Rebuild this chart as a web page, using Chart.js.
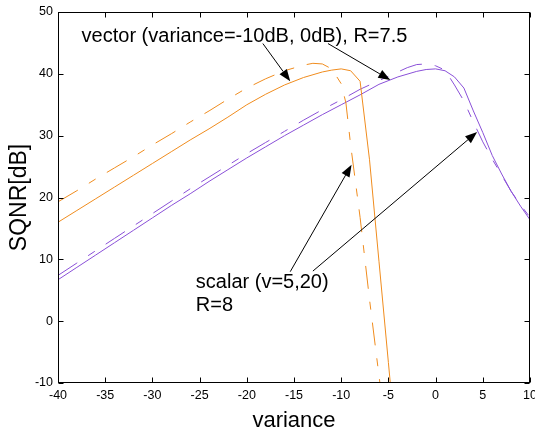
<!DOCTYPE html>
<html>
<head>
<meta charset="utf-8">
<script src="https://cdn.jsdelivr.net/npm/chart.js@4.4.0/dist/chart.umd.min.js"></script>
<style>
  html, body { margin: 0; padding: 0; background: #fff; }
  canvas { display: block; }
</style>
</head>
<body>
<canvas id="sqnrChart" width="535" height="433"></canvas>
<script>
// values (variance in dB -> SQNR in dB)
const vecOrangeX = [-40, -38, -36, -34, -32, -30, -28, -26, -24, -22, -20, -18, -16, -14, -12, -11, -10, -9, -8, -7, -6, -5, -4.8];
const vecOrangeY = [16.0, 17.9, 19.8, 21.7, 23.6, 25.5, 27.4, 29.3, 31.1, 33.0, 35.0, 36.7, 38.2, 39.4, 40.3, 40.6, 40.8, 40.5, 38.8, 26.1, 9.7, -6.7, -10];

const scalOrangeX = [-40, -38, -36, -34, -32, -30, -28, -26, -24, -22, -20, -18, -16, -14, -13, -12, -11, -10, -9.5, -9, -8, -7, -6, -5.9];
const scalOrangeY = [19.3, 21.1, 23.0, 24.8, 26.6, 28.5, 30.3, 32.2, 34.0, 35.9, 37.7, 39.2, 40.5, 41.4, 41.7, 41.6, 40.8, 38.4, 35.3, 28.5, 16.8, 3.5, -8.8, -10];

const vecPurpleX = [-40, -38, -36, -34, -32, -30, -28, -26, -24, -22, -20, -18, -16, -14, -12, -10, -8, -6, -4, -2, -1, 0, 1, 2, 3, 4, 5, 6, 7, 8, 9, 10];
const vecPurpleY = [6.7, 8.7, 10.7, 12.7, 14.7, 16.7, 18.7, 20.6, 22.6, 24.5, 26.4, 28.2, 30.0, 31.7, 33.4, 35.0, 36.6, 38.3, 39.5, 40.4, 40.7, 40.8, 40.5, 39.5, 37.7, 34.0, 30.5, 26.8, 23.8, 21.0, 18.6, 16.4];

const scalPurpleX = [-40, -38, -36, -34, -32, -30, -28, -26, -24, -22, -20, -18, -16, -14, -12, -10, -8, -6, -4, -3, -2, -1, 0, 1, 2, 3, 4, 5, 6, 7, 8, 9, 10];
const scalPurpleY = [7.4, 9.4, 11.4, 13.4, 15.4, 17.4, 19.4, 21.4, 23.3, 25.2, 27.1, 28.9, 30.7, 32.5, 34.2, 35.8, 37.5, 38.9, 40.3, 41.0, 41.5, 41.6, 41.3, 40.6, 38.2, 35.6, 32.2, 29.0, 26.2, 23.6, 21.0, 18.8, 16.8];

const xTicks = [-40, -35, -30, -25, -20, -15, -10, -5, 0, 5, 10];
const yTicks = [-10, 0, 10, 20, 30, 40, 50];

// text notes and arrows, in data units
const notes = [
  { text: 'vector (variance=-10dB, 0dB), R=7.5', x: -37.5, y: 45.2 },
  { text: 'scalar (v=5,20)', x: -25.4, y: 5.4 },
  { text: 'R=8', x: -25.4, y: 1.6 }
];
const arrows = [
  { from: [-18.3, 44.9], to: [-15.4, 38.8] },
  { from: [-11.4, 44.9], to: [-4.8, 39.0] },
  { from: [-15.4, 8.0], to: [-8.9, 25.3] },
  { from: [-13.0, 8.1], to: [4.4, 30.6] }
];

const ORANGE = '#f08c1e';
const PURPLE = '#8a50d8';
const FONT = "'Liberation Sans', Arial, sans-serif";
const dashDot = [23, 13, 8, 13];

function toPoints(xs, ys) {
  return xs.map((x, i) => ({ x: x, y: ys[i] }));
}

function drawArrow(ctx, x0, y0, x1, y1) {
  const ang = Math.atan2(y1 - y0, x1 - x0);
  const len = 12, half = 4.5;
  const bx = x1 - len * Math.cos(ang), by = y1 - len * Math.sin(ang);
  ctx.beginPath();
  ctx.moveTo(x0, y0);
  ctx.lineTo(bx, by);
  ctx.stroke();
  ctx.beginPath();
  ctx.moveTo(x1, y1);
  ctx.lineTo(bx + half * Math.sin(ang), by - half * Math.cos(ang));
  ctx.lineTo(bx - half * Math.sin(ang), by + half * Math.cos(ang));
  ctx.closePath();
  ctx.fill();
}

const matlabBox = {
  id: 'matlabBox',
  afterDraw(chart) {
    const { ctx, chartArea: a, scales: { x, y } } = chart;
    const l = Math.round(a.left) + 0.5, r = Math.round(a.right) - 0.5;
    const t = Math.round(a.top) + 0.5, b = Math.round(a.bottom) - 0.5;
    const tl = 5;
    ctx.save();
    ctx.strokeStyle = '#000';
    ctx.fillStyle = '#000';
    ctx.lineWidth = 1;
    ctx.strokeRect(l, t, r - l, b - t);
    ctx.beginPath();
    xTicks.forEach(v => {
      const px = Math.round(x.getPixelForValue(v)) + 0.5;
      ctx.moveTo(px, b); ctx.lineTo(px, b - tl);
      ctx.moveTo(px, t); ctx.lineTo(px, t + tl);
    });
    yTicks.forEach(v => {
      const py = Math.round(y.getPixelForValue(v)) + 0.5;
      ctx.moveTo(l, py); ctx.lineTo(l + tl, py);
      ctx.moveTo(r, py); ctx.lineTo(r - tl, py);
    });
    ctx.stroke();

    ctx.font = '20px ' + FONT;
    ctx.textBaseline = 'alphabetic';
    ctx.textAlign = 'left';
    notes.forEach(n => {
      ctx.fillText(n.text, x.getPixelForValue(n.x), y.getPixelForValue(n.y));
    });
    arrows.forEach(ar => {
      drawArrow(ctx,
        x.getPixelForValue(ar.from[0]), y.getPixelForValue(ar.from[1]),
        x.getPixelForValue(ar.to[0]), y.getPixelForValue(ar.to[1]));
    });
    ctx.restore();
  }
};

const ctx = document.getElementById('sqnrChart').getContext('2d');

new Chart(ctx, {
  type: 'line',
  data: {
    datasets: [
      { data: toPoints(scalOrangeX, scalOrangeY), borderColor: ORANGE, borderDash: dashDot },
      { data: toPoints(vecOrangeX, vecOrangeY), borderColor: ORANGE },
      { data: toPoints(scalPurpleX, scalPurpleY), borderColor: PURPLE, borderDash: dashDot },
      { data: toPoints(vecPurpleX, vecPurpleY), borderColor: PURPLE }
    ]
  },
  options: {
    responsive: false,
    animation: false,
    devicePixelRatio: 1,
    layout: { padding: { top: 12, right: 5, left: 0, bottom: 0 } },
    elements: {
      line: { borderWidth: 1, tension: 0, fill: false },
      point: { radius: 0 }
    },
    plugins: {
      legend: { display: false },
      tooltip: { enabled: false }
    },
    scales: {
      x: {
        type: 'linear',
        min: -40,
        max: 10,
        afterBuildTicks: s => { s.ticks = xTicks.map(v => ({ value: v })); },
        afterFit: s => { s.height = 50; s.paddingLeft = 0; s.paddingRight = 0; },
        grid: { display: false, drawTicks: false },
        border: { display: false },
        ticks: { color: '#000', padding: 5, maxRotation: 0, font: { family: FONT, size: 12.5 } },
        title: {
          display: true,
          text: 'variance',
          color: '#000',
          font: { family: FONT, size: 22, lineHeight: 1 },
          padding: { top: 0, bottom: 1 }
        }
      },
      y: {
        type: 'linear',
        min: -10,
        max: 50,
        afterBuildTicks: s => { s.ticks = yTicks.map(v => ({ value: v })); },
        afterFit: s => { s.width = 58; s.paddingTop = 0; s.paddingBottom = 0; },
        grid: { display: false, drawTicks: false },
        border: { display: false },
        ticks: { color: '#000', padding: 5, font: { family: FONT, size: 12.5 } },
        title: {
          display: true,
          text: 'SQNR[dB]',
          color: '#000',
          font: { family: FONT, size: 23, lineHeight: 1 },
          padding: { top: 8, bottom: 0 }
        }
      }
    }
  },
  plugins: [matlabBox]
});
</script>
</body>
</html>
